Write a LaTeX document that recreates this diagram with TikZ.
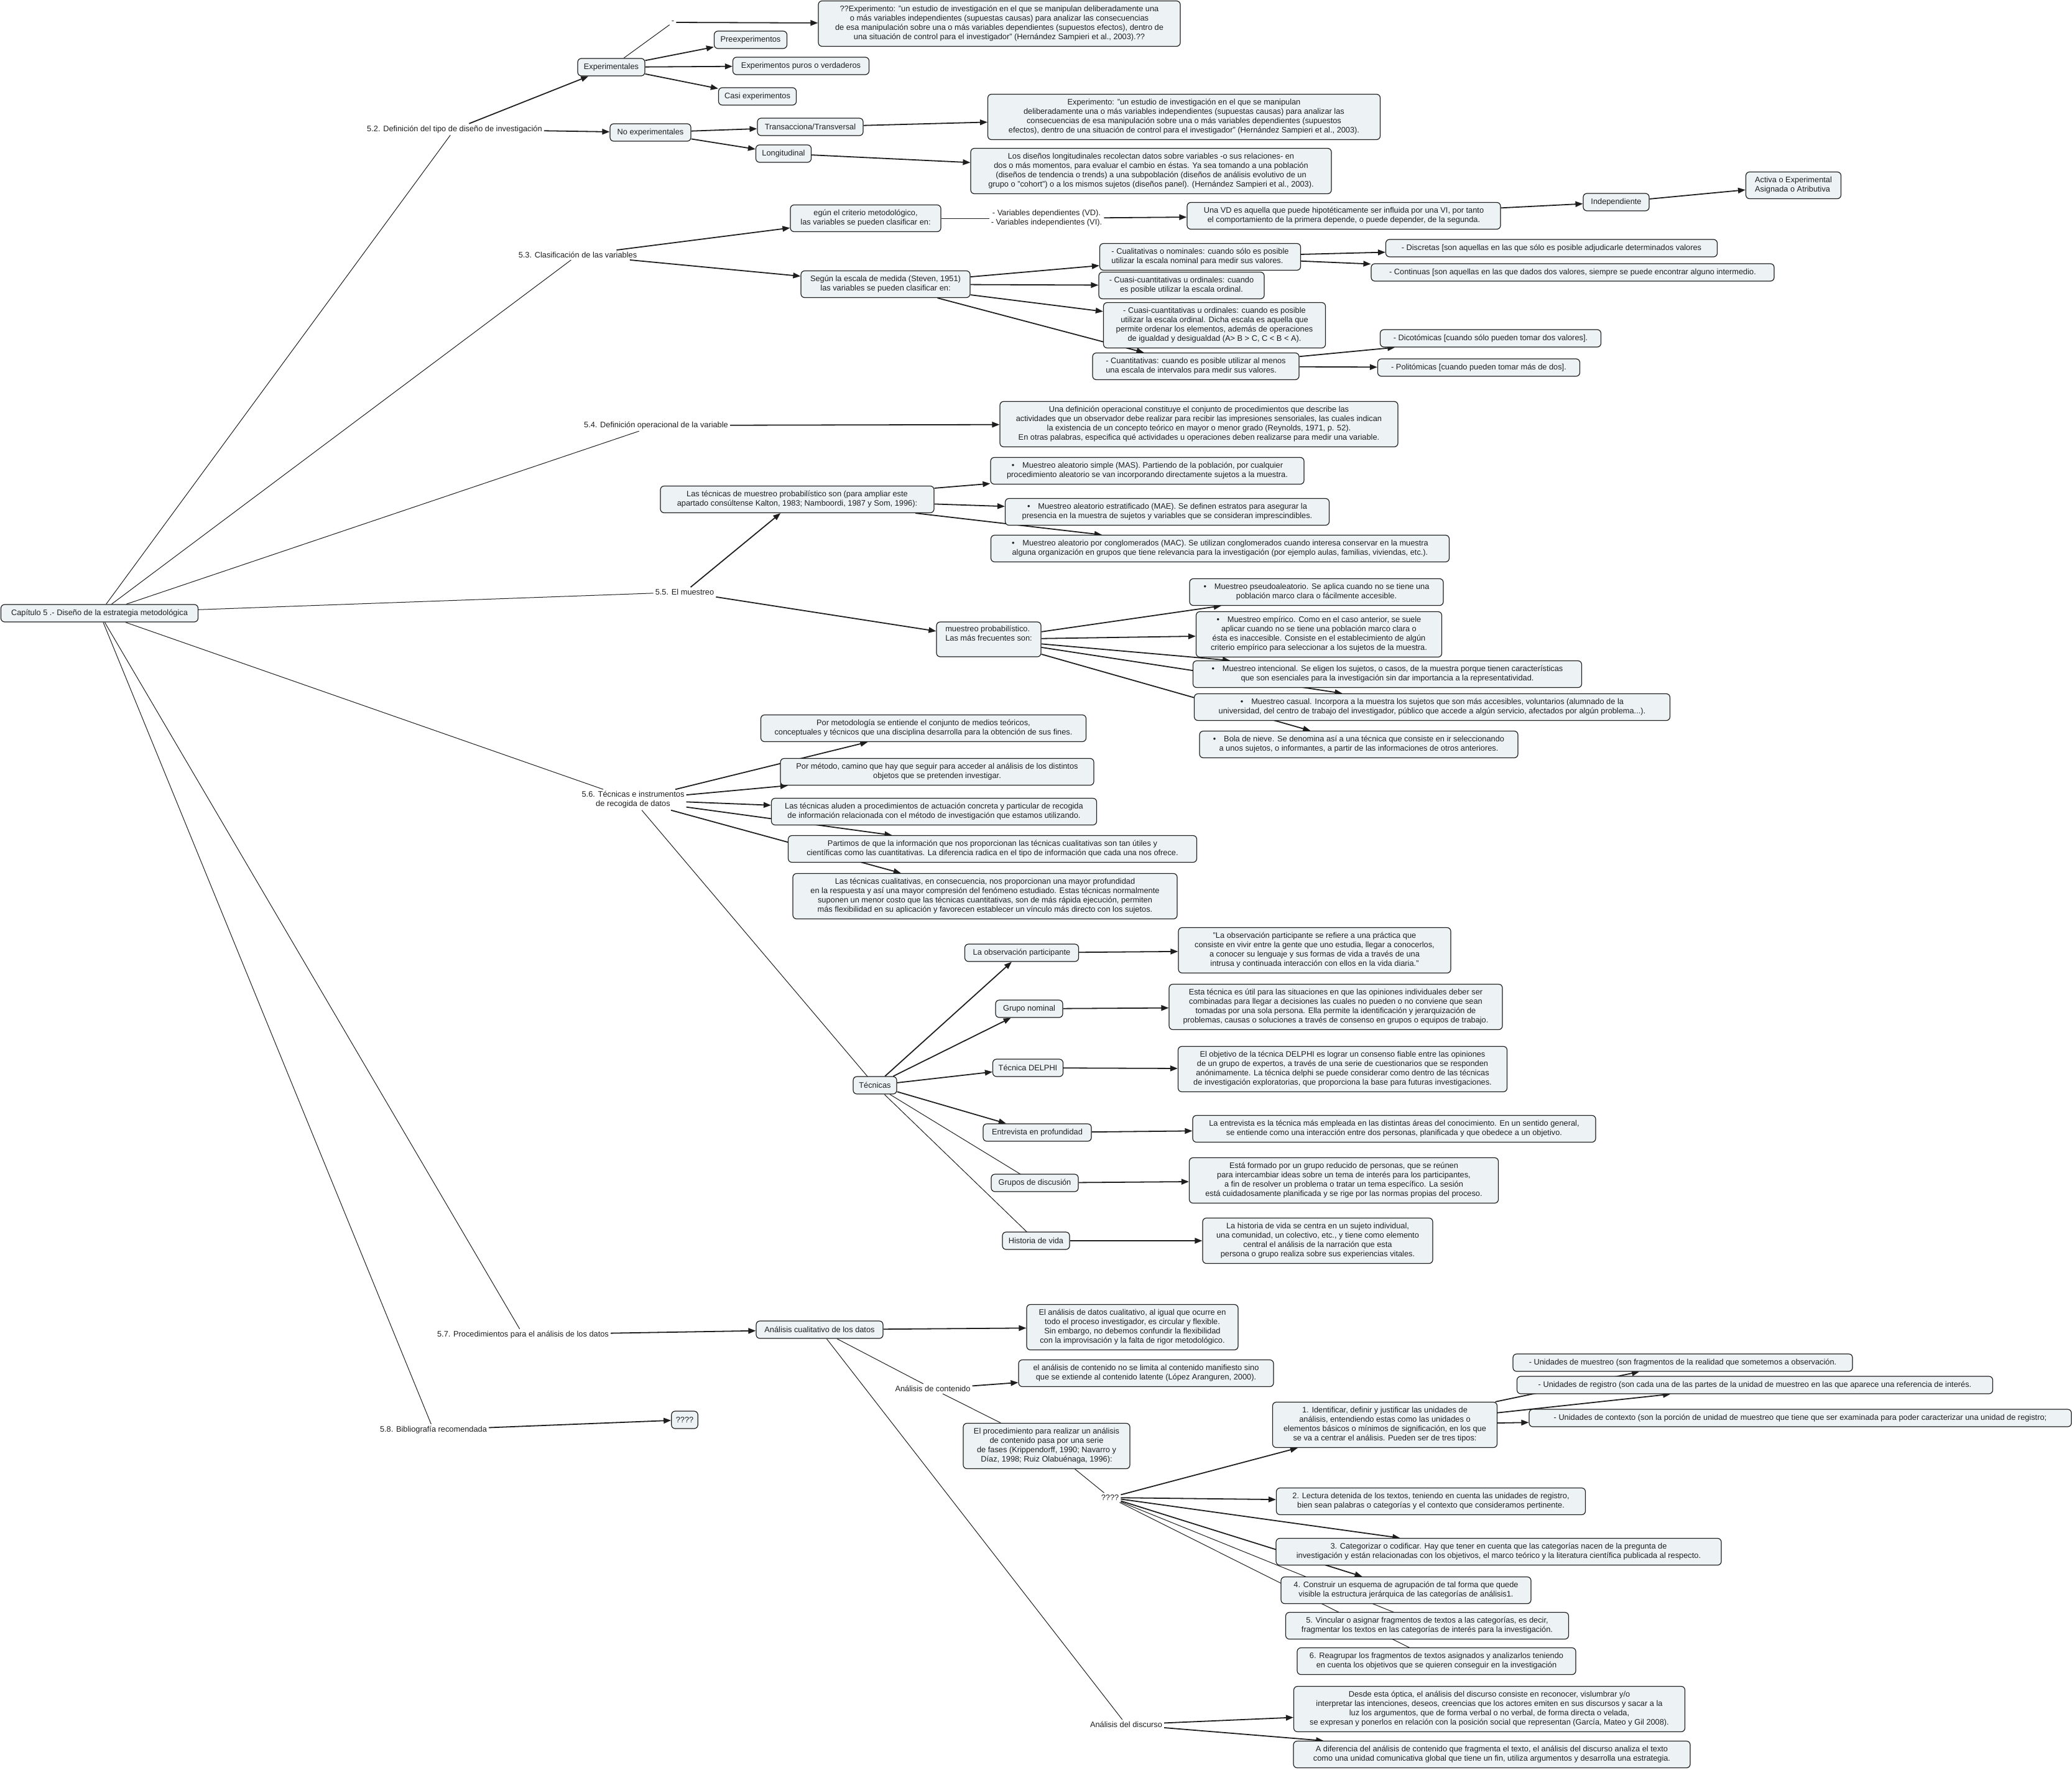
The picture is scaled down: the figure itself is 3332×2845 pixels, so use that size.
\documentclass[tikz,border=0pt]{standalone}
\usepackage{fontspec}
\setmainfont{Liberation Sans}
\usetikzlibrary{arrows.meta}
\pgfdeclarelayer{bg}
\pgfdeclarelayer{paper}
\pgfsetlayers{paper,bg,main}
\definecolor{boxfill}{RGB}{237,243,245}
\definecolor{ink}{RGB}{30,30,30}
\newcommand\fs{\fontsize{12.8}{15}\selectfont}
\tikzset{
  box/.style={draw=ink, line width=1.2pt, rounded corners=6pt, fill=boxfill, align=center, inner xsep=7pt, inner ysep=4pt, font=\fs, text=ink},
  lab/.style={align=center, inner sep=3pt, font=\fs, text=ink},
  l1/.style={minimum height=28pt},
  l2/.style={minimum height=43pt},
  l3/.style={minimum height=56pt},
  l4/.style={minimum height=73pt},
  arr/.style={line width=1.8pt, draw=ink, -{Triangle[length=12pt,width=9pt]}},
  ln/.style={line width=1pt, draw=ink},
}
\begin{document}
\begin{tikzpicture}[x=1pt,y=-1pt]
\begin{pgfonlayer}{paper}
\fill[white] (0,0) rectangle (3332,2845);
\end{pgfonlayer}
\useasboundingbox (0,0) rectangle (3332,2845);

% root and level-1 labels
\node[box,l1,minimum width=317pt] (r) at (160,986) {Capítulo 5 .- Diseño de la estrategia metodológica};
\node[lab] (L52) at (731,208) {5.2. Definición del tipo de diseño de investigación};
\node[lab] (L53) at (929,410) {5.3. Clasificación de las variables};
\node[lab] (L54) at (1055,684) {5.4. Definición operacional de la variable};
\node[lab] (L55) at (1101,952) {5.5. El muestreo};
\node[lab] (L56) at (1018,1286) {5.6. Técnicas e instrumentos\\de recogida de datos};
\node[lab] (L57) at (841,2146) {5.7. Procedimientos para el análisis de los datos};
\node[lab] (L58) at (697,2299) {5.8. Bibliografía recomendada};

% 5.2
\node[box,l1,minimum width=108pt] (exp) at (983,108) {Experimentales};
\node[lab] (dash) at (1082,36) {-};
\node[box,l4,minimum width=582pt] (t1) at (1607,38) {??Experimento: "un estudio de investigación en el que se manipulan deliberadamente una\\o más variables independientes (supuestas causas) para analizar las consecuencias\\de esa manipulación sobre una o más variables dependientes (supuestos efectos), dentro de\\una situación de control para el investigador" (Hernández Sampieri et al., 2003).??};
\node[box,l1,minimum width=117pt] (pre) at (1207,64) {Preexperimentos};
\node[box,l1,minimum width=219pt] (puros) at (1288,106) {Experimentos puros o verdaderos};
\node[box,l1,minimum width=125pt] (casi) at (1218,155) {Casi experimentos};
\node[box,l1,minimum width=130pt] (noexp) at (1046,213) {No experimentales};
\node[box,l1,minimum width=170pt] (trans) at (1303,204) {Transacciona/Transversal};
\node[box,l1,minimum width=89pt] (longi) at (1260,247) {Longitudinal};
\node[box,l4,minimum width=631pt] (exp2) at (1904,188) {Experimento: "un estudio de investigación en el que se manipulan\\deliberadamente una o más variables independientes (supuestas causas) para analizar las\\consecuencias de esa manipulación sobre una o más variables dependientes (supuestos\\efectos), dentro de una situación de control para el investigador" (Hernández Sampieri et al., 2003).};
\node[box,l4,minimum width=580pt] (longbox) at (1851,275) {Los diseños longitudinales recolectan datos sobre variables -o sus relaciones- en\\dos o más momentos, para evaluar el cambio en éstas. Ya sea tomando a una población\\(diseños de tendencia o trends) a una subpoblación (diseños de análisis evolutivo de un\\grupo o "cohort") o a los mismos sujetos (diseños panel). (Hernández Sampieri et al., 2003).};

% 5.3
\node[box,l2,minimum width=242pt] (crit) at (1392,351) {egún el criterio metodológico,\\las variables se pueden clasificar en:};
\node[lab] (vdl) at (1683,351) {- Variables dependientes (VD).\\- Variables independientes (VI).};
\node[box,l2,minimum width=504pt] (vd) at (2161,347) {Una VD es aquella que puede hipotéticamente ser influida por una VI, por tanto\\el comportamiento de la primera depende, o puede depender, de la segunda.};
\node[box,l1,minimum width=106pt] (indep) at (2599,325) {Independiente};
\node[box,l2,minimum width=153pt,align=left] (activa) at (2884,298) {Activa o Experimental\\Asignada o Atributiva};
\node[box,l2,minimum width=272pt] (esc) at (1424,457) {Según la escala de medida (Steven, 1951)\\las variables se pueden clasificar en:};
\node[box,l2,minimum width=323pt,align=left] (cual) at (1930,413) {- Cualitativas o nominales: cuando sólo es posible\\utilizar la escala nominal para medir sus valores.};
\node[box,l1,minimum width=533pt] (disc) at (2495,399) {- Discretas [son aquellas en las que sólo es posible adjudicarle determinados valores};
\node[box,l1,minimum width=648pt] (cont) at (2529,438) {- Continuas [son aquellas en las que dados dos valores, siempre se puede encontrar alguno intermedio.};
\node[box,l2,minimum width=266pt] (cuasi1) at (1900,459) {- Cuasi-cuantitativas u ordinales: cuando\\es posible utilizar la escala ordinal.};
\node[box,l4,minimum width=357pt] (cuasi2) at (1953,523) {- Cuasi-cuantitativas u ordinales: cuando es posible\\utilizar la escala ordinal. Dicha escala es aquella que\\permite ordenar los elementos, además de operaciones\\de igualdad y desigualdad (A> B > C, C < B < A).};
\node[box,l2,minimum width=332pt,align=left] (cuant) at (1923,589) {- Cuantitativas: cuando es posible utilizar al menos\\una escala de intervalos para medir sus valores.};
\node[box,l1,minimum width=355pt] (dico) at (2397,544) {- Dicotómicas [cuando sólo pueden tomar dos valores].};
\node[box,l1,minimum width=325pt] (poli) at (2378,591) {- Politómicas [cuando pueden tomar más de dos].};

% 5.4
\node[box,l4,minimum width=640pt] (defop) at (1928,682) {Una definición operacional constituye el conjunto de procedimientos que describe las\\actividades que un observador debe realizar para recibir las impresiones sensoriales, las cuales indican\\la existencia de un concepto teórico en mayor o menor grado (Reynolds, 1971, p. 52).\\En otras palabras, especifica qué actividades u operaciones deben realizarse para medir una variable.};

% 5.5
\node[box,l2,minimum width=440pt] (tmp) at (1282,803) {Las técnicas de muestreo probabilístico son (para ampliar este\\apartado consúltense Kalton, 1983; Namboordi, 1987 y Som, 1996):};
\node[box,l2,minimum width=504pt] (mas) at (1845,757) {•\quad Muestreo aleatorio simple (MAS). Partiendo de la población, por cualquier\\procedimiento aleatorio se van incorporando directamente sujetos a la muestra.};
\node[box,l2,minimum width=521pt] (mae) at (1877,823) {•\quad Muestreo aleatorio estratificado (MAE). Se definen estratos para asegurar la\\presencia en la muestra de sujetos y variables que se consideran imprescindibles.};
\node[box,l2,minimum width=737pt] (mac) at (1962,882) {•\quad Muestreo aleatorio por conglomerados (MAC). Se utilizan conglomerados cuando interesa conservar en la muestra\\alguna organización en grupos que tiene relevancia para la investigación (por ejemplo aulas, familias, viviendas, etc.).};
\node[box,l3,minimum width=168pt,align=left] (mprob) at (1590,1028) {muestreo probabilístico.\\Las más frecuentes son:\\\strut};
\node[box,l2,minimum width=408pt] (pseudo) at (2117,952) {•\quad Muestreo pseudoaleatorio. Se aplica cuando no se tiene una\\población marco clara o fácilmente accesible.};
\node[box,l4,minimum width=395pt] (emp) at (2121,1020) {•\quad Muestreo empírico. Como en el caso anterior, se suele\\aplicar cuando no se tiene una población marco clara o\\ésta es inaccesible. Consiste en el establecimiento de algún\\criterio empírico para seleccionar a los sujetos de la muestra.};
\node[box,l2,minimum width=625pt] (inten) at (2231,1084) {•\quad Muestreo intencional. Se eligen los sujetos, o casos, de la muestra porque tienen características\\que son esenciales para la investigación sin dar importancia a la representatividad.};
\node[box,l2,minimum width=765pt] (casual) at (2303,1137) {•\quad Muestreo casual. Incorpora a la muestra los sujetos que son más accesibles, voluntarios (alumnado de la\\universidad, del centro de trabajo del investigador, público que accede a algún servicio, afectados por algún problema...).};
\node[box,l2,minimum width=512pt] (bola) at (2185,1197) {•\quad Bola de nieve. Se denomina así a una técnica que consiste en ir seleccionando\\a unos sujetos, o informantes, a partir de las informaciones de otros anteriores.};

% 5.6
\node[box,l2,minimum width=523pt] (metod) at (1485,1171) {Por metodología se entiende el conjunto de medios teóricos,\\conceptuales y técnicos que una disciplina desarrolla para la obtención de sus fines.};
\node[box,l2,minimum width=504pt] (metodo) at (1507,1241) {Por método, camino que hay que seguir para acceder al análisis de los distintos\\objetos que se pretenden investigar.};
\node[box,l2,minimum width=523pt] (aluden) at (1502,1305) {Las técnicas aluden a procedimientos de actuación concreta y particular de recogida\\de información relacionada con el método de investigación que estamos utilizando.};
\node[box,l2,minimum width=657pt] (partimos) at (1596,1365) {Partimos de que la información que nos proporcionan las técnicas cualitativas son tan útiles y\\científicas como las cuantitativas. La diferencia radica en el tipo de información que cada una nos ofrece.};
\node[box,l4,minimum width=618pt] (tcual) at (1584,1441) {Las técnicas cualitativas, en consecuencia, nos proporcionan una mayor profundidad\\en la respuesta y así una mayor compresión del fenómeno estudiado. Estas técnicas normalmente\\suponen un menor costo que las técnicas cuantitativas, son de más rápida ejecución, permiten\\más flexibilidad en su aplicación y favorecen establecer un vínculo más directo con los sujetos.};
\node[box,l1,minimum width=70pt] (tec) at (1407,1745) {Técnicas};
\node[box,l1,minimum width=183pt] (obs) at (1643,1532) {La observación participante};
\node[box,l4,minimum width=438pt] (obsT) at (2114,1528) {"La observación participante se refiere a una práctica que\\consiste en vivir entre la gente que uno estudia, llegar a conocerlos,\\a conocer su lenguaje y sus formas de vida a través de una\\intrusa y continuada interacción con ellos en la vida diaria."};
\node[box,l1,minimum width=108pt] (gn) at (1655,1622) {Grupo nominal};
\node[box,l4,minimum width=536pt] (gnT) at (2148,1619) {Esta técnica es útil para las situaciones en que las opiniones individuales deber ser\\combinadas para llegar a decisiones las cuales no pueden o no conviene que sean\\tomadas por una sola persona. Ella permite la identificación y jerarquización de\\problemas, causas o soluciones a través de consenso en grupos o equipos de trabajo.};
\node[box,l1,minimum width=113pt] (delphi) at (1653,1717) {Técnica DELPHI};
\node[box,l4,minimum width=529pt] (delT) at (2159,1719) {El objetivo de la técnica DELPHI es lograr un consenso fiable entre las opiniones\\de un grupo de expertos, a través de una serie de cuestionarios que se responden\\anónimamente. La técnica delphi se puede considerar como dentro de las técnicas\\de investigación exploratorias, que proporciona la base para futuras investigaciones.};
\node[box,l1,minimum width=174pt] (entr) at (1668,1821) {Entrevista en profundidad};
\node[box,l2,minimum width=648pt] (entT) at (2242,1815) {La entrevista es la técnica más empleada en las distintas áreas del conocimiento. En un sentido general,\\se entiende como una interacción entre dos personas, planificada y que obedece a un objetivo.};
\node[box,l1,minimum width=140pt] (gd) at (1664,1902) {Grupos de discusión};
\node[box,l4,minimum width=497pt] (gdT) at (2161,1898) {Está formado por un grupo reducido de personas, que se reúnen\\para intercambiar ideas sobre un tema de interés para los participantes,\\a fin de resolver un problema o tratar un tema específico. La sesión\\está cuidadosamente planificada y se rige por las normas propias del proceso.};
\node[box,l1,minimum width=108pt] (hv) at (1666,1995) {Historia de vida};
\node[box,l4,minimum width=370pt] (hvT) at (2119,1995) {La historia de vida se centra en un sujeto individual,\\una comunidad, un colectivo, etc., y tiene como elemento\\central el análisis de la narración que esta\\persona o grupo realiza sobre sus experiencias vitales.};

% 5.7
\node[box,l1,minimum width=204pt] (acd) at (1318,2138) {Análisis cualitativo de los datos};
\node[box,l4,minimum width=340pt] (acdT) at (1821,2134) {El análisis de datos cualitativo, al igual que ocurre en\\todo el proceso investigador, es circular y flexible.\\Sin embargo, no debemos confundir la flexibilidad\\con la improvisación y la falta de rigor metodológico.};
\node[lab] (Lcont) at (1500,2233) {Análisis de contenido};
\node[box,l2,minimum width=410pt] (contT) at (1843,2208) {el análisis de contenido no se limita al contenido manifiesto sino\\que se extiende al contenido latente (López Aranguren, 2000).};
\node[box,l4,minimum width=268pt] (proc) at (1683,2325) {El procedimiento para realizar un análisis\\de contenido pasa por una serie\\de fases (Krippendorff, 1990; Navarro y\\Díaz, 1998; Ruiz Olabuénaga, 1996):};
\node[lab] (Lq) at (1785,2408) {????};
\node[box,l4,minimum width=361pt] (s1) at (2227,2291) {1. Identificar, definir y justificar las unidades de\\análisis, entendiendo estas como las unidades o\\elementos básicos o mínimos de significación, en los que\\se va a centrar el análisis. Pueden ser de tres tipos:};
\node[box,l1,minimum width=546pt] (um) at (2706,2191) {- Unidades de muestreo (son fragmentos de la realidad que sometemos a observación.};
\node[box,l1,minimum width=765pt] (ur) at (2822,2227) {- Unidades de registro (son cada una de las partes de la unidad de muestreo en las que aparece una referencia de interés.};
\node[box,l1,minimum width=872pt] (uc) at (2895,2280) {- Unidades de contexto (son la porción de unidad de muestreo que tiene que ser examinada para poder caracterizar una unidad de registro;};
\node[box,l2,minimum width=497pt] (s2) at (2301,2414) {2. Lectura detenida de los textos, teniendo en cuenta las unidades de registro,\\bien sean palabras o categorías y el contexto que consideramos pertinente.};
\node[box,l2,minimum width=716pt] (s3) at (2410,2495) {3. Categorizar o codificar. Hay que tener en cuenta que las categorías nacen de la pregunta de\\investigación y están relacionadas con los objetivos, el marco teórico y la literatura científica publicada al respecto.};
\node[box,l2,minimum width=402pt] (s4) at (2261,2557) {4. Construir un esquema de agrupación de tal forma que quede\\visible la estructura jerárquica de las categorías de análisis1.};
\node[box,l2,minimum width=455pt] (s5) at (2295,2614) {5. Vincular o asignar fragmentos de textos a las categorías, es decir,\\fragmentar los textos en las categorías de interés para la investigación.};
\node[box,l2,minimum width=448pt] (s6) at (2310,2671) {6. Reagrupar los fragmentos de textos asignados y analizarlos teniendo\\en cuenta los objetivos que se quieren conseguir en la investigación};
\node[lab] (Ldisc) at (1811,2773) {Análisis del discurso};
\node[box,l4,minimum width=629pt] (desde) at (2395,2748) {Desde esta óptica, el análisis del discurso consiste en reconocer, vislumbrar y/o\\interpretar las intenciones, deseos, creencias que los actores emiten en sus discursos y sacar a la\\luz los argumentos, que de forma verbal o no verbal, de forma directa o velada,\\se expresan y ponerlos en relación con la posición social que representan (García, Mateo y Gil 2008).};
\node[box,l2,minimum width=638pt] (adif) at (2399,2821) {A diferencia del análisis de contenido que fragmenta el texto, el análisis del discurso analiza el texto\\como una unidad comunicativa global que tiene un fin, utiliza argumentos y desarrolla una estrategia.};

% 5.8
\node[box,l1,minimum width=42pt] (q) at (1101,2283) {????};

\begin{pgfonlayer}{bg}
  \foreach \t in {L52,L53,L54,L55,L56,L57,L58} \draw[ln] (r) -- (\t);
  % 5.2
  \draw[arr] (L52) -- (exp);
  \draw[arr] (L52) -- (noexp);
  \draw[ln] (exp) -- (dash);
  \draw[arr] (dash) -- (t1);
  \draw[arr] (exp) -- (pre);
  \draw[arr] (exp) -- (puros);
  \draw[arr] (exp) -- (casi);
  \draw[arr] (noexp) -- (trans);
  \draw[arr] (noexp) -- (longi);
  \draw[arr] (trans) -- (exp2);
  \draw[arr] (longi) -- (longbox);
  % 5.3
  \draw[arr] (L53) -- (crit);
  \draw[arr] (L53) -- (esc);
  \draw[ln] (crit) -- (vdl);
  \draw[arr] (vdl) -- (vd);
  \draw[arr] (vd) -- (indep);
  \draw[arr] (indep) -- (activa);
  \draw[arr] (esc) -- (cual);
  \draw[arr] (esc) -- (cuasi1);
  \draw[arr] (esc) -- (cuasi2);
  \draw[arr] (esc) -- (cuant);
  \draw[arr] (cual) -- (disc);
  \draw[arr] (cual) -- (cont);
  \draw[arr] (cuant) -- (dico);
  \draw[arr] (cuant) -- (poli);
  % 5.4
  \draw[arr] (L54) -- (defop);
  % 5.5
  \draw[arr] (L55) -- (tmp);
  \draw[arr] (L55) -- (mprob);
  \draw[arr] (tmp) -- (mas);
  \draw[arr] (tmp) -- (mae);
  \draw[arr] (tmp) -- (mac);
  \foreach \t in {pseudo,emp,inten,casual,bola} \draw[arr] (mprob) -- (\t);
  % 5.6
  \foreach \t in {metod,metodo,aluden,partimos,tcual} \draw[arr] (L56) -- (\t);
  \draw[ln] (L56) -- (tec.center);
  \foreach \t in {obs,gn,delphi,entr} \draw[arr] (tec) -- (\t);
  \draw[ln] (tec) -- (gd.center);
  \draw[ln] (tec) -- (hv.center);
  \draw[arr] (obs) -- (obsT);
  \draw[arr] (gn) -- (gnT);
  \draw[arr] (delphi) -- (delT);
  \draw[arr] (entr) -- (entT);
  \draw[arr] (gd) -- (gdT);
  \draw[arr] (hv) -- (hvT);
  % 5.7
  \draw[arr] (L57) -- (acd);
  \draw[arr] (acd) -- (acdT);
  \draw[ln] (acd) -- (Lcont);
  \draw[arr] (Lcont) -- (contT);
  \draw[ln] (Lcont) -- (proc);
  \draw[ln] (acd) -- (Ldisc);
  \draw[ln] (proc) -- (Lq);
  \foreach \t in {s1,s2,s3,s4} \draw[arr] (Lq) -- (\t);
  \draw[ln] (Lq) -- (s5.center);
  \draw[ln] (Lq) -- (s6.center);
  \foreach \t in {um,ur,uc} \draw[arr] (s1) -- (\t);
  \draw[arr] (Ldisc) -- (desde);
  \draw[arr] (Ldisc) -- (adif);
  % 5.8
  \draw[arr] (L58) -- (q);
\end{pgfonlayer}
\end{tikzpicture}
\end{document}
